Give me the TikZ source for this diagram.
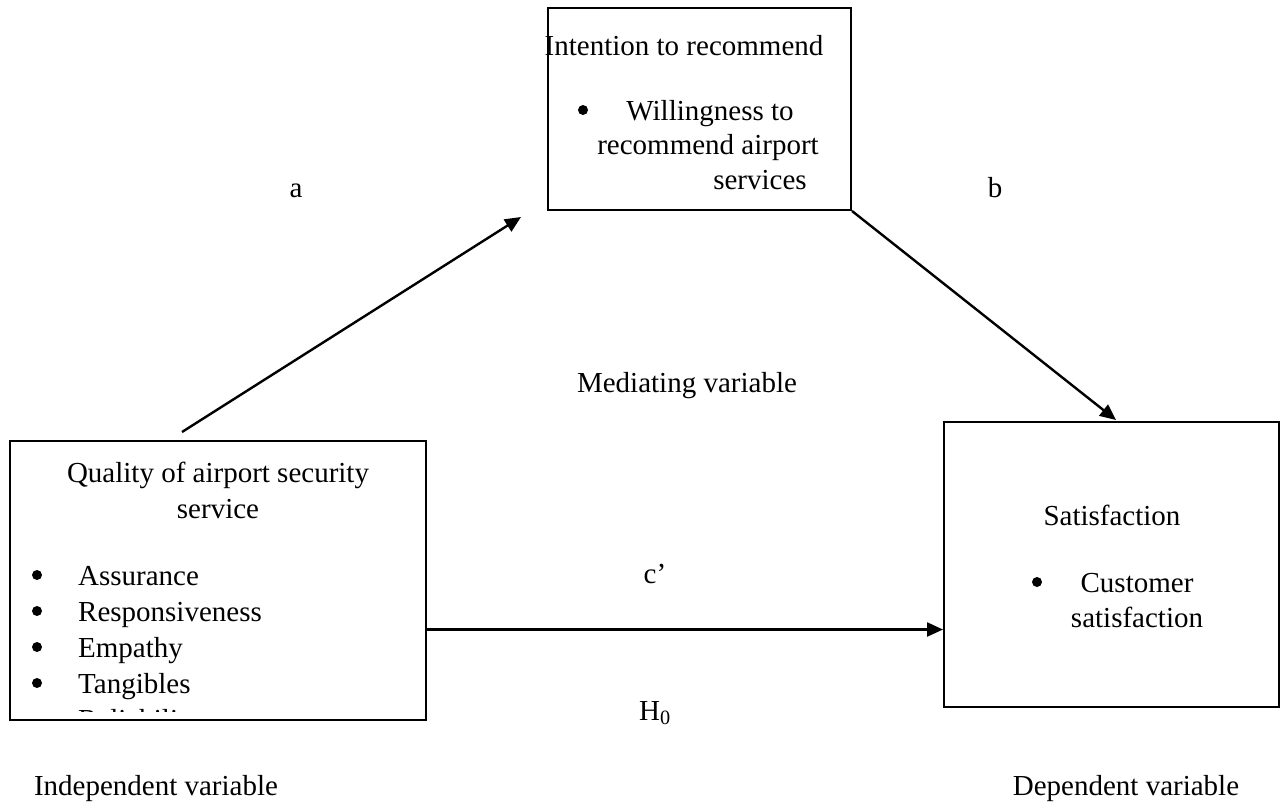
\documentclass[tikz,border=0pt]{standalone}
\usepackage{fontspec}
\setmainfont{Liberation Serif}
\usetikzlibrary{arrows.meta,calc}
\begin{document}
\begin{tikzpicture}[x=1pt,y=-1pt,
  box/.style={draw,line width=2pt,inner sep=0pt,rectangle},
  txt/.style={inner sep=0pt,font=\fontsize{29}{35}\selectfont,anchor=base},
  txtl/.style={txt,anchor=base west},
  bul/.style={circle,fill,inner sep=0pt,minimum size=10pt},
  conn/.style={line width=2.4pt,-{Triangle[length=16pt,width=14pt]}}]
\useasboundingbox (0,0) rectangle (1281,804);

% boxes
\node[box,minimum width=303pt,minimum height=202pt] (rec) at (699.5,109) {};
\node[box,minimum width=416pt,minimum height=279pt] (qual) at (218,580.5) {};
\node[box,minimum width=335pt,minimum height=285pt] (sat) at (1111.5,564.5) {};

% top box text
\node[txt] (recT) at (684,55) {Intention to recommend};
\node[bul] (recB) at (583,110) {};
\node[txt] (recL1) at (710,120) {Willingness to};
\node[txt] (recL2) at (708,154) {recommend airport};
\node[txt] (recL3) at (760,189) {services};

% left box text
\node[txt] (qualT1) at (218,482) {Quality of airport security};
\node[txt] (qualT2) at (218,518) {service};
\node[bul] (qb1) at (37,575) {};
\node[txtl] (qi1) at (78,585) {Assurance};
\node[bul] (qb2) at (37,611) {};
\node[txtl] (qi2) at (78,621) {Responsiveness};
\node[bul] (qb3) at (37,647) {};
\node[txtl] (qi3) at (78,657) {Empathy};
\node[bul] (qb4) at (37,683) {};
\node[txtl] (qi4) at (78,693) {Tangibles};
\begin{scope}
  \clip (12,443) rectangle (424,711);
  \node[txtl] (qi5) at (78,729) {Reliability};
\end{scope}

% right box text
\node[txt] (satT) at (1112,525) {Satisfaction};
\node[bul] (satB) at (1037,582) {};
\node[txt] (satL1) at (1137,592) {Customer};
\node[txt] (satL2) at (1137,627) {satisfaction};

% labels
\node[txt] (la) at (296,197) {a};
\node[txt] (lb) at (995,197) {b};
\node[txt] (lmed) at (687,392) {Mediating variable};
\node[txt] (lc) at (655,583) {c’};
\node[txt] (lh) at (655,720) {H\textsubscript{0}};
\node[txt] (lind) at (156,795) {Independent variable};
\node[txt] (ldep) at (1126,795) {Dependent variable};

% connectors
\coordinate (aS) at ($(qual.north west)+(173,-8)$);
\coordinate (aE) at ($(rec.south west)+(-26,6)$);
\coordinate (bE) at ($(sat.north west)+(173,-1)$);
\coordinate (cS) at ($(qual.north east)+(0,189.5)$);
\draw[conn] (aS) -- (aE);
\draw[conn] (rec.south east) -- (bE);
\draw[conn] (cS) -- (cS -| sat.west);
\end{tikzpicture}
\end{document}
